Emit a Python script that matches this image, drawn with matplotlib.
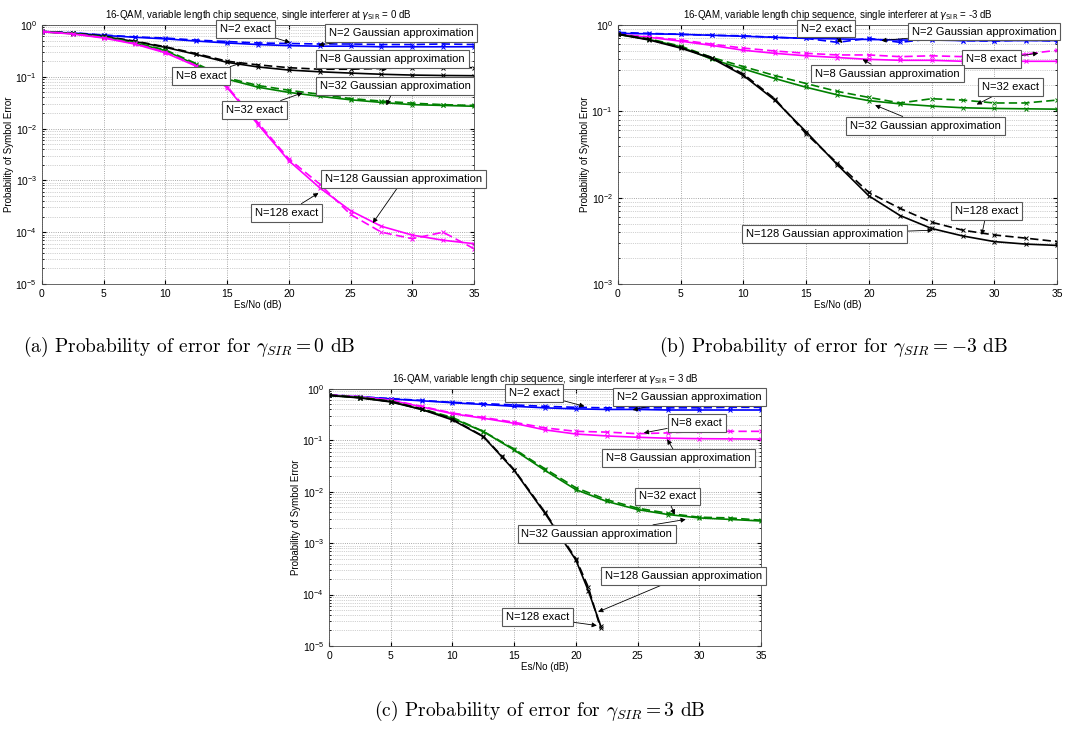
import matplotlib
matplotlib.use("Agg")
import matplotlib.pyplot as plt
from matplotlib.ticker import LogLocator, NullFormatter, MultipleLocator

plt.rcParams["font.family"] = ["Liberation Sans", "DejaVu Sans"]

# ---------- data (Es/No in dB, symbol error prob.) ----------
esno = [0, 2.5, 5, 7.5, 10, 12.5, 15, 17.5, 20, 22.5, 25, 27.5, 30, 32.5, 35]

# (a) gamma_SIR = 0 dB
a_n2_exact = [0.75, 0.71, 0.64, 0.59, 0.56, 0.51, 0.48, 0.45, 0.44, 0.43, 0.43, 0.42, 0.42, 0.43, 0.42]
a_n2_gauss = [0.74, 0.70, 0.63, 0.58, 0.54, 0.49, 0.45, 0.42, 0.40, 0.39, 0.39, 0.38, 0.38, 0.38, 0.38]
a_n8_exact = [0.75, 0.70, 0.61, 0.49, 0.38, 0.28, 0.20, 0.17, 0.15, 0.14, 0.14, 0.145, 0.15, 0.15, 0.15]
a_n8_gauss = [0.74, 0.69, 0.60, 0.48, 0.37, 0.27, 0.19, 0.155, 0.135, 0.125, 0.118, 0.112, 0.108, 0.106, 0.105]
a_n32_exact = [0.75, 0.69, 0.59, 0.46, 0.33, 0.18, 0.095, 0.068, 0.055, 0.046, 0.038, 0.034, 0.031, 0.029, 0.028]
a_n32_gauss = [0.74, 0.68, 0.58, 0.45, 0.32, 0.17, 0.09, 0.063, 0.050, 0.042, 0.036, 0.032, 0.029, 0.028, 0.027]
a_n128_exact = [0.75, 0.68, 0.57, 0.44, 0.30, 0.165, 0.065, 0.013, 0.0026, 8.5e-4, 2.2e-4, 1.0e-4, 7.5e-5, 1.0e-4, 4.8e-5]
a_n128_gauss = [0.74, 0.67, 0.56, 0.43, 0.29, 0.16, 0.062, 0.012, 0.0024, 7.2e-4, 2.6e-4, 1.3e-4, 8.8e-5, 7.0e-5, 6.0e-5]

# (b) gamma_SIR = -3 dB
b_n2_exact = [0.82, 0.80, 0.78, 0.76, 0.75, 0.72, 0.70, 0.63, 0.70, 0.63, 0.69, 0.66, 0.65, 0.67, 0.65]
b_n2_gauss = [0.80, 0.79, 0.78, 0.76, 0.74, 0.72, 0.70, 0.69, 0.68, 0.67, 0.67, 0.66, 0.66, 0.66, 0.66]
b_n8_exact = [0.78, 0.73, 0.67, 0.60, 0.54, 0.50, 0.47, 0.45, 0.45, 0.43, 0.44, 0.43, 0.44, 0.46, 0.51]
b_n8_gauss = [0.78, 0.72, 0.65, 0.58, 0.51, 0.47, 0.44, 0.42, 0.40, 0.39, 0.39, 0.38, 0.38, 0.38, 0.38]
b_n32_exact = [0.78, 0.69, 0.57, 0.42, 0.33, 0.26, 0.21, 0.17, 0.145, 0.125, 0.14, 0.135, 0.125, 0.125, 0.135]
b_n32_gauss = [0.78, 0.68, 0.56, 0.40, 0.31, 0.24, 0.19, 0.155, 0.133, 0.122, 0.115, 0.11, 0.108, 0.107, 0.106]
b_n128_exact = [0.79, 0.68, 0.55, 0.42, 0.27, 0.14, 0.055, 0.025, 0.0115, 0.0075, 0.0052, 0.0042, 0.0037, 0.0034, 0.0031]
b_n128_gauss = [0.78, 0.67, 0.54, 0.41, 0.26, 0.135, 0.058, 0.024, 0.0105, 0.0062, 0.0044, 0.0036, 0.0031, 0.0029, 0.0028]

# (c) gamma_SIR = 3 dB
c_n2_exact = [0.77, 0.71, 0.65, 0.60, 0.55, 0.52, 0.49, 0.46, 0.44, 0.43, 0.43, 0.43, 0.43, 0.44, 0.44]
c_n2_gauss = [0.76, 0.70, 0.64, 0.59, 0.54, 0.50, 0.46, 0.43, 0.41, 0.40, 0.40, 0.39, 0.39, 0.39, 0.39]
c_n8_exact = [0.77, 0.71, 0.61, 0.46, 0.34, 0.28, 0.225, 0.175, 0.15, 0.145, 0.135, 0.14, 0.15, 0.15, 0.15]
c_n8_gauss = [0.76, 0.70, 0.60, 0.45, 0.33, 0.27, 0.215, 0.16, 0.133, 0.122, 0.115, 0.11, 0.108, 0.107, 0.106]
c_n32_exact = [0.76, 0.69, 0.58, 0.41, 0.28, 0.15, 0.068, 0.028, 0.012, 0.0070, 0.0048, 0.0038, 0.0032, 0.0031, 0.0028]
c_n32_gauss = [0.75, 0.68, 0.57, 0.40, 0.27, 0.148, 0.065, 0.026, 0.011, 0.0065, 0.0045, 0.0036, 0.0031, 0.0029, 0.0027]
# N=128 stops at 22 dB (no errors counted beyond)
c_esno128 = [0, 2.5, 5, 7.5, 10, 12.5, 14, 15, 17.5, 20, 21, 22]
c_n128_exact = [0.76, 0.68, 0.57, 0.41, 0.26, 0.12, 0.05, 0.027, 0.0040, 5.0e-4, 1.4e-4, 2.2e-5]
c_n128_gauss = [0.75, 0.67, 0.56, 0.40, 0.25, 0.118, 0.048, 0.026, 0.0038, 4.7e-4, 1.2e-4, 2.5e-5]

BLUE, MAGENTA, GREEN, BLACK = "#0000ff", "#ff00ff", "#008000", "#000000"


def draw_panel(ax, curves, notes, title, ymin):
    # curves: (x, y_exact, y_gauss, colour); exact = dashed, Gaussian = solid
    for x, ye, yg, col in curves:
        ax.plot(x, yg, "-", color=col, lw=1.2, marker="x", ms=2.5, mew=0.7)
        ax.plot(x, ye, "--", color=col, lw=1.2, dashes=(5, 2.5), marker="x", ms=2.5, mew=0.7)
    for text, tip, box in notes:
        ax.annotate(text, xy=tip, xytext=box, ha="center", va="center", fontsize=8,
                    bbox=dict(boxstyle="square,pad=0.35", fc="white", ec="0.35", lw=0.8),
                    arrowprops=dict(arrowstyle="-|>", color="k", lw=0.6, mutation_scale=7,
                                    shrinkA=0, shrinkB=0),
                    annotation_clip=False, zorder=5)
    ax.set_yscale("log")
    ax.set_xlim(0, 35)
    ax.set_ylim(ymin, 1)
    ax.xaxis.set_major_locator(MultipleLocator(5))
    ax.yaxis.set_major_locator(LogLocator(base=10, numticks=10))
    ax.yaxis.set_minor_locator(LogLocator(base=10, subs=range(2, 10), numticks=20))
    ax.yaxis.set_minor_formatter(NullFormatter())
    ax.grid(True, which="major", ls=":", color="0.55", lw=0.6)
    ax.grid(True, which="minor", axis="y", ls=":", color="0.65", lw=0.5)
    ax.tick_params(direction="in", which="both", labelsize=7.5, top=True, right=True)
    ax.tick_params(which="major", length=3)
    ax.tick_params(which="minor", length=1.5)
    ax.set_title(title, fontsize=7, pad=5)
    ax.set_xlabel("Es/No (dB)", fontsize=7, labelpad=1)
    ax.set_ylabel("Probability of Symbol Error", fontsize=7, labelpad=1)
    for s in ax.spines.values():
        s.set_linewidth(0.6)
        s.set_color("0.3")


fig = plt.figure(figsize=(10.71, 7.29), dpi=100)

ax_a = fig.add_axes([0.0392, 0.6104, 0.4034, 0.3553])
ax_b = fig.add_axes([0.5770, 0.6104, 0.4099, 0.3553])
ax_c = fig.add_axes([0.3072, 0.1139, 0.4034, 0.3525])

title_fmt = r"16-QAM, variable length chip sequence, single interferer at $\gamma_{\rm SIR}$ = %s dB"

draw_panel(ax_a,
           [(esno, a_n2_exact, a_n2_gauss, BLUE),
            (esno, a_n8_exact, a_n8_gauss, BLACK),
            (esno, a_n32_exact, a_n32_gauss, GREEN),
            (esno, a_n128_exact, a_n128_gauss, MAGENTA)],
           [("N=2 exact", (20.1, 0.46), (16.5, 0.84)),
            ("N=2 Gaussian approximation", (22.4, 0.41), (29.1, 0.70)),
            ("N=8 Gaussian approximation", (27.5, 0.125), (28.4, 0.22)),
            ("N=8 exact", (16.2, 0.186), (12.9, 0.104)),
            ("N=32 Gaussian approximation", (27.9, 0.028), (28.6, 0.066)),
            ("N=32 exact", (21.1, 0.049), (17.2, 0.023)),
            ("N=128 Gaussian approximation", (26.8, 1.5e-4), (29.3, 1.07e-3)),
            ("N=128 exact", (22.4, 5.7e-4), (19.8, 2.35e-4))],
           title_fmt % "0", 1e-5)

draw_panel(ax_b,
           [(esno, b_n2_exact, b_n2_gauss, BLUE),
            (esno, b_n8_exact, b_n8_gauss, MAGENTA),
            (esno, b_n32_exact, b_n32_gauss, GREEN),
            (esno, b_n128_exact, b_n128_gauss, BLACK)],
           [("N=2 exact", (17.9, 0.62), (16.6, 0.91)),
            ("N=2 Gaussian approximation", (21.0, 0.66), (29.2, 0.84)),
            ("N=8 exact", (33.5, 0.47), (29.8, 0.40)),
            ("N=8 Gaussian approximation", (19.5, 0.40), (21.5, 0.274)),
            ("N=32 exact", (28.6, 0.12), (31.3, 0.19)),
            ("N=32 Gaussian approximation", (20.5, 0.118), (24.5, 0.068)),
            ("N=128 exact", (29.0, 0.0037), (29.4, 0.0070)),
            ("N=128 Gaussian approximation", (25.1, 0.0042), (16.5, 0.0038))],
           title_fmt % "-3", 1e-3)

draw_panel(ax_c,
           [(esno, c_n2_exact, c_n2_gauss, BLUE),
            (esno, c_n8_exact, c_n8_gauss, MAGENTA),
            (esno, c_n32_exact, c_n32_gauss, GREEN),
            (c_esno128, c_n128_exact, c_n128_gauss, BLACK)],
           [("N=2 exact", (20.7, 0.46), (16.6, 0.84)),
            ("N=2 Gaussian approximation", (24.6, 0.39), (29.2, 0.70)),
            ("N=8 exact", (25.5, 0.14), (29.8, 0.22)),
            ("N=8 Gaussian approximation", (27.4, 0.105), (28.3, 0.045)),
            ("N=32 exact", (28.0, 0.0036), (27.4, 0.0081)),
            ("N=32 Gaussian approximation", (28.9, 0.0029), (21.7, 0.0015)),
            ("N=128 Gaussian approximation", (21.8, 4.6e-5), (28.7, 2.3e-4)),
            ("N=128 exact", (21.7, 2.5e-5), (16.9, 3.6e-5))],
           title_fmt % "3", 1e-5)

# sub-figure captions in a LaTeX-like serif face
cap_kw = dict(ha="center", va="center", fontsize=14, family="cmr10", math_fontfamily="cm")
fig.text(0.177, 0.524, r"(a) Probability of error for $\gamma_{SIR} = 0$ dB", **cap_kw)
fig.text(0.778, 0.524, r"(b) Probability of error for $\gamma_{SIR} = -3$ dB", **cap_kw)
fig.text(0.504, 0.025, r"(c) Probability of error for $\gamma_{SIR} = 3$ dB", **cap_kw)

fig.savefig("out.png", dpi=100)
